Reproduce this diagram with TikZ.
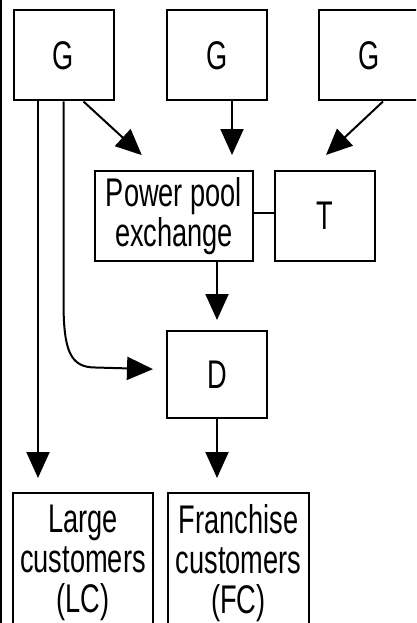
\documentclass[tikz,border=0pt]{standalone}
\usepackage{fontspec}
\setmainfont[FakeStretch=0.68]{Liberation Sans}
\usetikzlibrary{arrows.meta}

\begin{document}
\begin{tikzpicture}[x=1pt,y=-1pt,line width=2pt,font=\fontsize{40}{40}\selectfont]
    \tikzstyle{block}=[draw=black,line width=2pt,minimum width=100pt,minimum height=90pt,inner sep=0pt,align=center]
    \tikzstyle{flow}=[-{Triangle[length=26pt,width=23pt]}]

    \useasboundingbox (0,0) rectangle (416,623);
    \clip (0,0) rectangle (416,623);

    \draw (1,0) -- (1,623);

    \foreach \name / \x in {1/63.5,2/217,3/369}
        \node[block] (G-\name) at (\x,55.5) {G};

    \node[block, minimum width=158pt] (pool) at (174,216) {Power pool\\exchange};
    \node[block] (T) at (325,216) {T};
    \node[block, minimum height=87pt] (D) at (217,374.5) {D};

    \node[block, minimum width=140pt, minimum height=140pt, anchor=north] (LC) at (83,492) {Large\\customers\\(LC)};
    \node[block, minimum width=141pt, minimum height=140pt, anchor=north] (FC) at (238.5,492) {Franchise\\customers\\(FC)};

    \draw ([yshift=3pt]pool.east) -- ([yshift=3pt]T.west);

    \draw[flow, shorten >=22pt] ([xshift=20pt]G-1.south) -- ([xshift=-16pt]pool.north);
    \draw[flow, shorten >=15pt] ([xshift=15pt]G-2.south) -- ([xshift=58pt]pool.north);
    \draw[flow, shorten >=22pt] ([xshift=14pt]G-3.south) -- ([xshift=-15pt]T.north);

    \draw[flow, shorten >=10pt] (pool.south -| D.north) -- (D.north);
    \draw[flow, shorten >=13pt] (G-1.south) -- ++(0,200) .. controls +(0,50) and +(-25,0) .. ++(32,66) -- ([yshift=5pt]D.west);
    \draw[flow, shorten >=14pt] ([xshift=-25.5pt]G-1.south) -- ([xshift=-45pt]LC.north);
    \draw[flow, shorten >=14pt] (D.south) -- ([xshift=-21.5pt]FC.north);
\end{tikzpicture}
\end{document}
